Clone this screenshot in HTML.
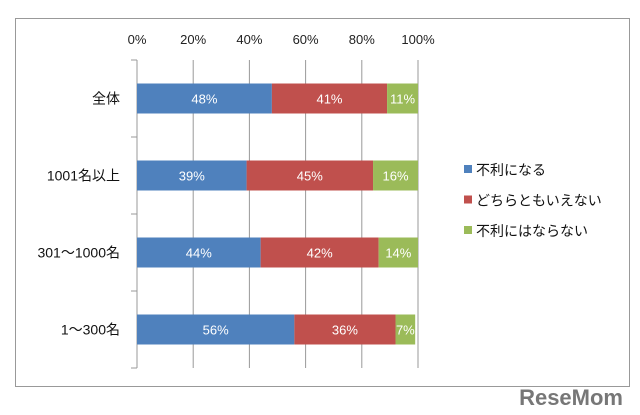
<!DOCTYPE html>
<html><head><meta charset="utf-8"><style>
body{margin:0;width:640px;height:415px;background:#fff;overflow:hidden;font-family:"Liberation Sans","Noto Sans CJK JP",sans-serif}
svg{position:absolute;left:0;top:0}
</style></head><body>
<svg width="640" height="415">
<rect x="15.5" y="18.5" width="614" height="368" fill="#fff" stroke="#999"/>
<g id="grid"></g><g id="bars"></g><g id="labels"></g>
<g id="legend"></g>
<text x="623" y="405" text-anchor="end" font-size="22" font-weight="bold" fill="#777" font-family="Liberation Sans">ReseMom</text>
</svg>
<script>
const categories=["全体","1001名以上","301～1000名","1～300名"];
const seriesNames=["不利になる","どちらともいえない","不利にはならない"];
const s1=[48,39,44,56];
const s2=[41,45,42,36];
const s3=[11,16,14,7];
const ticks=[0,20,40,60,80,100];
const colors=["#4f81bd","#c0504d","#9bbb59"];
const NS="http://www.w3.org/2000/svg";
const X0=137,X1=418,Y0=60,Y1=368;
const x=v=>X0+(X1-X0)*v/100;
const band=(Y1-Y0)/categories.length;
const yc=i=>Y0+band*(i+0.5);
function mk(t,a,p){const e=document.createElementNS(NS,t);for(const k in a)e.setAttribute(k,a[k]);document.getElementById(p).appendChild(e);return e;}
ticks.forEach(t=>{
 const l=mk("line",{x1:x(t),x2:x(t),y1:Y0,y2:Y1,stroke:"#999","stroke-width":1},"grid");
 
 
 const tx=mk("text",{x:x(t),y:44,"text-anchor":"middle","font-size":13,fill:"#222"},"labels");
 tx.textContent=t+"%";
 
 
});
for(let i=0;i<=categories.length;i++){
 const l=mk("line",{x1:X0-6,x2:X0,y1:Y0+band*i,y2:Y0+band*i,stroke:"#999"},"grid");
 
 
}
const series=[s1,s2,s3];
categories.forEach((c,i)=>{
 let acc=0;const h=30,y=yc(i)-h/2;
 series.forEach((s,j)=>{
  const r=mk("rect",{x:x(acc),y:y,width:x(acc+s[i])-x(acc),height:h,fill:colors[j]},"bars");
  
  
  const t=mk("text",{x:(x(acc)+x(acc+s[i]))/2,y:yc(i)+5,"text-anchor":"middle","font-size":13,fill:"#fff"},"labels");
  t.textContent=s[i]+"%";
  
  
  acc+=s[i];
 });
 const t=mk("text",{x:120,y:yc(i)+5,"text-anchor":"end","font-size":14,fill:"#111"},"labels");
 t.textContent=c;
 
 
});
seriesNames.forEach((n,j)=>{
 const y=170+j*30.5;
 const r=mk("rect",{x:464,y:y-5,width:8,height:8,fill:colors[j]},"legend");
 
 
 const t=mk("text",{x:476,y:y+5,"font-size":14,fill:"#111"},"legend");
 t.textContent=n;
 
 
});
</script>
</body></html>
